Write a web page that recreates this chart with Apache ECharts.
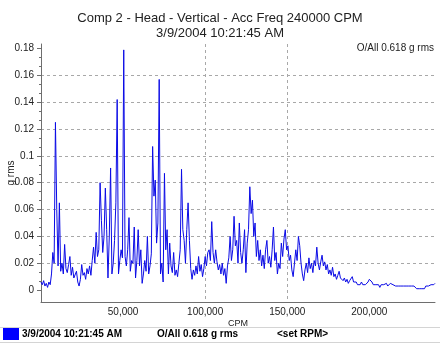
<!DOCTYPE html>
<html>
<head>
<meta charset="utf-8">
<title>Comp 2 - Head - Vertical</title>
<script src="https://cdn.jsdelivr.net/npm/echarts@6/dist/echarts.min.js"></script>
<style>
  html, body { margin: 0; padding: 0; background: #ffffff; }
  #chart { width: 440px; height: 346px; }
</style>
</head>
<body>
<div id="chart"></div>
<script>
// Spectrum: Comp 2 - Head - Vertical, 240000 CPM span, one line every 800 CPM
const FREQ_STEP = 800;          // CPM per spectral line
const FREQ_MAX = 240000;        // CPM
const OVERALL = '0.618 g rms';
const TIMESTAMP = '3/9/2004 10:21:45 AM';

// Amplitude of each spectral line, g rms (line 0 = 0 CPM)
const amplitude = [
  0.006, 0.004, 0.007, 0.003, 0.005, 0.002, 0.006, 0.004, 0.012, 0.028,
  0.020, 0.125, 0.060, 0.018, 0.065, 0.014, 0.020, 0.012, 0.034, 0.016,
  0.013, 0.019, 0.025, 0.011, 0.017, 0.009, 0.008, 0.014, 0.006, 0.003,
  0.008, 0.019, 0.011, 0.013, 0.008, 0.016, 0.012, 0.018, 0.011, 0.022,
  0.032, 0.020, 0.043, 0.025, 0.030, 0.080, 0.052, 0.028, 0.040, 0.076,
  0.045, 0.009, 0.040, 0.091, 0.012, 0.020, 0.037, 0.065, 0.142, 0.012,
  0.022, 0.030, 0.024, 0.179, 0.025, 0.018, 0.030, 0.054, 0.014, 0.022,
  0.020, 0.047, 0.009, 0.022, 0.045, 0.018, 0.030, 0.005, 0.012, 0.022,
  0.014, 0.040, 0.012, 0.018, 0.027, 0.107, 0.070, 0.082, 0.035, 0.050,
  0.157, 0.012, 0.020, 0.006, 0.087, 0.030, 0.045, 0.012, 0.035, 0.018,
  0.013, 0.028, 0.011, 0.015, 0.010, 0.020, 0.030, 0.090, 0.045, 0.037,
  0.020, 0.045, 0.065, 0.037, 0.016, 0.008, 0.015, 0.011, 0.018, 0.012,
  0.025, 0.014, 0.019, 0.010, 0.016, 0.025, 0.018, 0.028, 0.030, 0.022,
  0.051, 0.028, 0.020, 0.030, 0.021, 0.015, 0.019, 0.012, 0.020, 0.011,
  0.016, 0.005, 0.018, 0.024, 0.040, 0.022, 0.030, 0.055, 0.033, 0.037,
  0.020, 0.050, 0.028, 0.020, 0.030, 0.045, 0.013, 0.035, 0.045, 0.077,
  0.057, 0.067, 0.040, 0.050, 0.025, 0.037, 0.022, 0.030, 0.018, 0.026,
  0.016, 0.030, 0.037, 0.020, 0.025, 0.017, 0.030, 0.047, 0.022, 0.028,
  0.012, 0.020, 0.016, 0.035, 0.025, 0.038, 0.045, 0.030, 0.033, 0.022,
  0.026, 0.015, 0.010, 0.020, 0.030, 0.022, 0.040, 0.033, 0.020, 0.012,
  0.007, 0.015, 0.020, 0.013, 0.024, 0.016, 0.020, 0.013, 0.022, 0.018,
  0.032, 0.020, 0.015, 0.021, 0.026, 0.018, 0.021, 0.015, 0.019, 0.012,
  0.015, 0.011, 0.017, 0.010, 0.012, 0.008, 0.011, 0.014, 0.009, 0.010,
  0.007, 0.009, 0.006, 0.008, 0.005, 0.007, 0.006, 0.010, 0.006, 0.005,
  0.006, 0.004, 0.005, 0.004, 0.006, 0.004, 0.005, 0.004, 0.005, 0.006,
  0.008, 0.009, 0.006, 0.004, 0.003, 0.004, 0.003, 0.004, 0.002, 0.004,
  0.003, 0.004, 0.003, 0.005, 0.003, 0.004, 0.005, 0.006, 0.004, 0.005,
  0.003, 0.004, 0.003, 0.004, 0.003, 0.004, 0.003, 0.004, 0.003, 0.002,
  0.003, 0.004, 0.003, 0.002, 0.003, 0.002, 0.001, 0.002, 0.001, 0.002,
  0.001, 0.002, 0.001, 0.003, 0.002, 0.003, 0.002, 0.004, 0.003, 0.004,
  0.005
];

// Axis ticks
const freqTicks = [50000, 100000, 150000, 200000];
const ampTicks = [0, 0.02, 0.04, 0.06, 0.08, 0.1, 0.12, 0.14, 0.16, 0.18];
const ampMinorTicks = [];
for (let k = 0; k < ampTicks.length - 1; k++) {
  const a = ampTicks[k], b = ampTicks[k + 1];
  ampMinorTicks.push(+(a + (b - a) / 3).toFixed(5), +(a + 2 * (b - a) / 3).toFixed(5));
}

const FONT = '"Liberation Sans", Arial, sans-serif';
const GRID_COLOR = '#a8a8a8';
const AXIS_COLOR = '#6e6e6e';
const LINE_COLOR = '#0a0ae6';

const spectrum = amplitude.map((v, i) => [i * FREQ_STEP, v]);

const chart = echarts.init(document.getElementById('chart'), null, { renderer: 'canvas' });

chart.setOption({
  animation: false,
  backgroundColor: '#ffffff',
  textStyle: { fontFamily: FONT },
  title: {
    text: 'Comp 2 - Head - Vertical - Acc Freq 240000 CPM\n' + TIMESTAMP,
    left: 'center',
    top: 6,
    textStyle: { fontFamily: FONT, fontSize: 13, fontWeight: 'normal', color: '#222222', lineHeight: 15 }
  },
  grid: { left: 41, top: 44, width: 394, height: 258, containLabel: false, outerBoundsMode: 'none' },
  xAxis: {
    type: 'value',
    min: 0,
    max: FREQ_MAX,
    name: 'CPM',
    nameLocation: 'middle',
    nameGap: 17,
    nameMoveOverlap: false,
    nameTextStyle: { fontFamily: FONT, fontSize: 9, color: '#222222' },
    axisLine: { show: true, onZero: false, lineStyle: { color: AXIS_COLOR, width: 1 } },
    axisTick: { show: false, customValues: freqTicks },
    axisLabel: {
      customValues: freqTicks,
      margin: 5,
      fontFamily: FONT,
      fontSize: 10,
      color: '#222222',
      formatter: v => v.toLocaleString('en-US')
    },
    splitLine: {
      show: true,
      showMinLine: false,
      showMaxLine: false,
      lineStyle: { color: GRID_COLOR, type: [3, 3], width: 1 }
    }
  },
  yAxis: [
    {
      type: 'value',
      min: -0.0089,
      max: 0.1834,
      name: 'g rms',
      nameLocation: 'middle',
      nameGap: 25,
      nameMoveOverlap: false,
      nameTextStyle: { fontFamily: FONT, fontSize: 10, color: '#222222' },
      axisLine: { show: true, onZero: false, lineStyle: { color: AXIS_COLOR, width: 1 } },
      axisTick: { show: true, customValues: ampTicks, length: 4, lineStyle: { color: AXIS_COLOR } },
      axisLabel: {
        customValues: ampTicks,
        margin: 7,
        fontFamily: FONT,
        fontSize: 10,
        color: '#222222',
        formatter: v => String(+v.toFixed(2))
      },
      splitLine: {
        show: true,
        showMinLine: false,
        showMaxLine: false,
        lineStyle: { color: GRID_COLOR, type: [3, 3], width: 1 }
      }
    },
    {
      type: 'value',
      min: -0.0089,
      max: 0.1834,
      position: 'left',
      axisLine: { show: false },
      axisLabel: { show: false },
      splitLine: { show: false },
      axisTick: { show: true, customValues: ampMinorTicks, length: 2, lineStyle: { color: AXIS_COLOR } }
    }
  ],
  series: [{
    type: 'line',
    data: spectrum,
    showSymbol: false,
    symbol: 'none',
    smooth: false,
    lineStyle: { color: LINE_COLOR, width: 1 },
    z: 3
  }],
  graphic: [
    {
      type: 'text', right: 6, top: 43,
      style: { text: 'O/All ' + OVERALL, font: '10px ' + FONT, fill: '#222222' }
    },
    // status bar below the plot
    { type: 'line', shape: { x1: 0, y1: 327.5, x2: 440, y2: 327.5 }, style: { stroke: '#d4d4d4', lineWidth: 1 } },
    { type: 'line', shape: { x1: 0, y1: 342.5, x2: 440, y2: 342.5 }, style: { stroke: '#d4d4d4', lineWidth: 1 } },
    { type: 'rect', shape: { x: 3, y: 328, width: 16, height: 12 }, style: { fill: '#0000ff' } },
    {
      type: 'text', left: 22, top: 329,
      style: { text: TIMESTAMP, font: 'bold 10px ' + FONT, fill: '#000000' }
    },
    {
      type: 'text', left: 157, top: 329,
      style: { text: 'O/All ' + OVERALL, font: 'bold 10px ' + FONT, fill: '#000000' }
    },
    {
      type: 'text', left: 277, top: 329,
      style: { text: '<set RPM>', font: 'bold 10px ' + FONT, fill: '#000000' }
    }
  ]
});
</script>
</body>
</html>
